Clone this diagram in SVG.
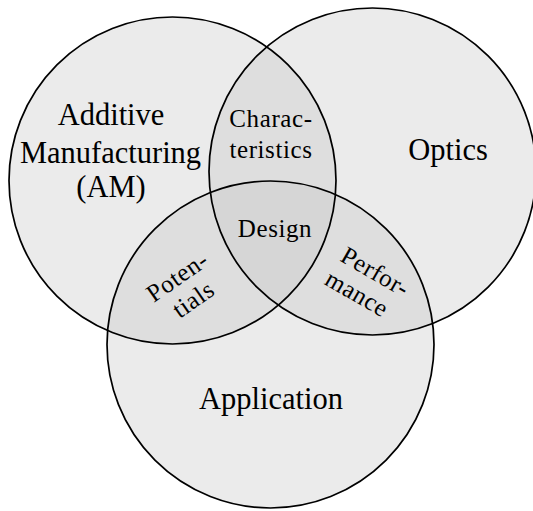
<svg xmlns="http://www.w3.org/2000/svg" width="533" height="511" viewBox="0 0 533 511">
<defs>
<circle id="cA" cx="172.5" cy="180.5" r="163.5"/>
<circle id="cO" cx="372.5" cy="171.5" r="163.5"/>
<circle id="cP" cx="270.5" cy="344.5" r="163.5"/>
<clipPath id="clipA"><use href="#cA"/></clipPath>
<clipPath id="clipO"><use href="#cO"/></clipPath>
<clipPath id="clipAO" clip-path="url(#clipA)"><use href="#cO"/></clipPath>
</defs>
<style>
.set{fill:#ebebeb;stroke:none}
.two{fill:#dedede}
.three{fill:#d6d6d6}
.edge{fill:none;stroke:#000;stroke-width:1.7}
.big{font-family:"Liberation Serif","Times New Roman",serif;font-size:30.5px;fill:#000;text-anchor:middle}
.sm{font-family:"Liberation Serif","Times New Roman",serif;font-size:25px;fill:#000;text-anchor:middle;letter-spacing:0.6px}
</style>
<rect width="533" height="511" fill="#fff"/>
<g id="am"><use href="#cA" class="set"/></g>
<g id="optics"><use href="#cO" class="set"/></g>
<g id="application"><use href="#cP" class="set"/></g>
<g id="overlaps">
<use href="#cO" class="two" clip-path="url(#clipA)"/>
<use href="#cP" class="two" clip-path="url(#clipA)"/>
<use href="#cP" class="two" clip-path="url(#clipO)"/>
<use href="#cP" class="three" clip-path="url(#clipAO)"/>
</g>
<g id="outlines">
<use href="#cA" class="edge"/>
<use href="#cO" class="edge"/>
<use href="#cP" class="edge"/>
</g>
<g id="labels">
<text class="big" x="111" y="125">Additive</text>
<text class="big" x="110.5" y="163">Manufacturing</text>
<text class="big" x="111" y="197">(AM)</text>
<text class="big" x="448" y="160">Optics</text>
<text class="big" x="271" y="409">Application</text>
</g>
<g id="characteristics">
<text class="sm" x="271" y="127">Charac-</text>
<text class="sm" x="271" y="158">teristics</text>
</g>
<g id="design">
<text class="sm" x="275" y="237">Design</text>
</g>
<g id="potentials" transform="translate(186,289) rotate(-35)">
<text class="sm" x="0" y="-7">Poten-</text>
<text class="sm" x="0" y="21">tials</text>
</g>
<g id="performance" transform="translate(366,284) rotate(30)">
<text class="sm" x="2" y="-7">Perfor-</text>
<text class="sm" x="-3" y="21">mance</text>
</g>
</svg>
